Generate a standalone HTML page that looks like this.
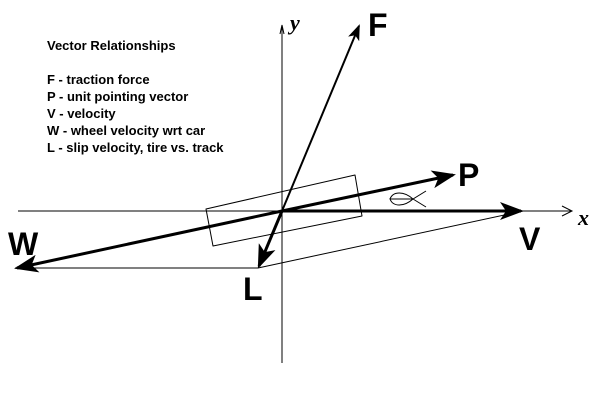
<!DOCTYPE html>
<html><head><meta charset="utf-8"><style>
body{margin:0;background:#fff;width:600px;height:409px;overflow:hidden}
svg{display:block}
.t{font-family:"Liberation Sans",sans-serif;font-size:13px;font-weight:bold;fill:#000}
.big{font-family:"Liberation Sans",sans-serif;font-size:32px;font-weight:bold;fill:#000}
</style></head><body>
<svg width="600" height="409" viewBox="0 0 600 409">
<defs>
<marker id="ah" markerWidth="8" markerHeight="6" refX="7" refY="3" orient="auto" markerUnits="strokeWidth"><path d="M0,0 L8,3 L0,6 L2,3 Z" fill="#000"/></marker>
</defs>
<g>
<text class="t" x="47" y="50">Vector Relationships</text>
<text class="t" x="47" y="84">F - traction force</text>
<text class="t" x="47" y="101">P - unit pointing vector</text>
<text class="t" x="47" y="118">V - velocity</text>
<text class="t" x="47" y="135">W - wheel velocity wrt car</text>
<text class="t" x="47" y="152">L - slip velocity, tire vs. track</text>
</g>
<line x1="18" y1="211" x2="572" y2="211" stroke="#000" stroke-width="1"/>
<path d="M562,206 L572,211 L562,216" fill="none" stroke="#000"/>
<line x1="282" y1="25" x2="282" y2="363" stroke="#000" stroke-width="1"/>
<path d="M280,34 L282,25 L284,34" fill="none" stroke="#000"/>
<text x="578" y="225" font-family="Liberation Serif,serif" font-style="italic" font-weight="bold" font-size="22">x</text>
<text x="290" y="30" font-family="Liberation Serif,serif" font-style="italic" font-weight="bold" font-size="22">y</text>
<polygon points="206,209 355,175 362,216 213,246" fill="none" stroke="#000" stroke-width="1" stroke-linejoin="round"/>
<line x1="15" y1="268" x2="258" y2="268" stroke="#000"/>
<line x1="258" y1="268" x2="523" y2="211" stroke="#000"/>
<path d="M390,199 C393,191 404,191 413,199 L426,191 M413,199 C404,207 393,207 390,199 Z M413,199 L426,207" fill="none" stroke="#000" stroke-width="1"/>
<line x1="282" y1="211" x2="359" y2="26" stroke="#000" stroke-width="2" marker-end="url(#ah)"/>
<line x1="282" y1="211" x2="453" y2="175" stroke="#000" stroke-width="3" marker-end="url(#ah)"/>
<line x1="282" y1="211" x2="521" y2="211" stroke="#000" stroke-width="3" marker-end="url(#ah)"/>
<line x1="282" y1="211" x2="17" y2="268" stroke="#000" stroke-width="3" marker-end="url(#ah)"/>
<line x1="282" y1="211" x2="259" y2="266" stroke="#000" stroke-width="3" marker-end="url(#ah)"/>
<text class="big" x="368" y="36">F</text>
<text class="big" x="458" y="186">P</text>
<text class="big" x="519" y="250">V</text>
<text class="big" x="8" y="255">W</text>
<text class="big" x="243" y="300">L</text>
</svg>
</body></html>
